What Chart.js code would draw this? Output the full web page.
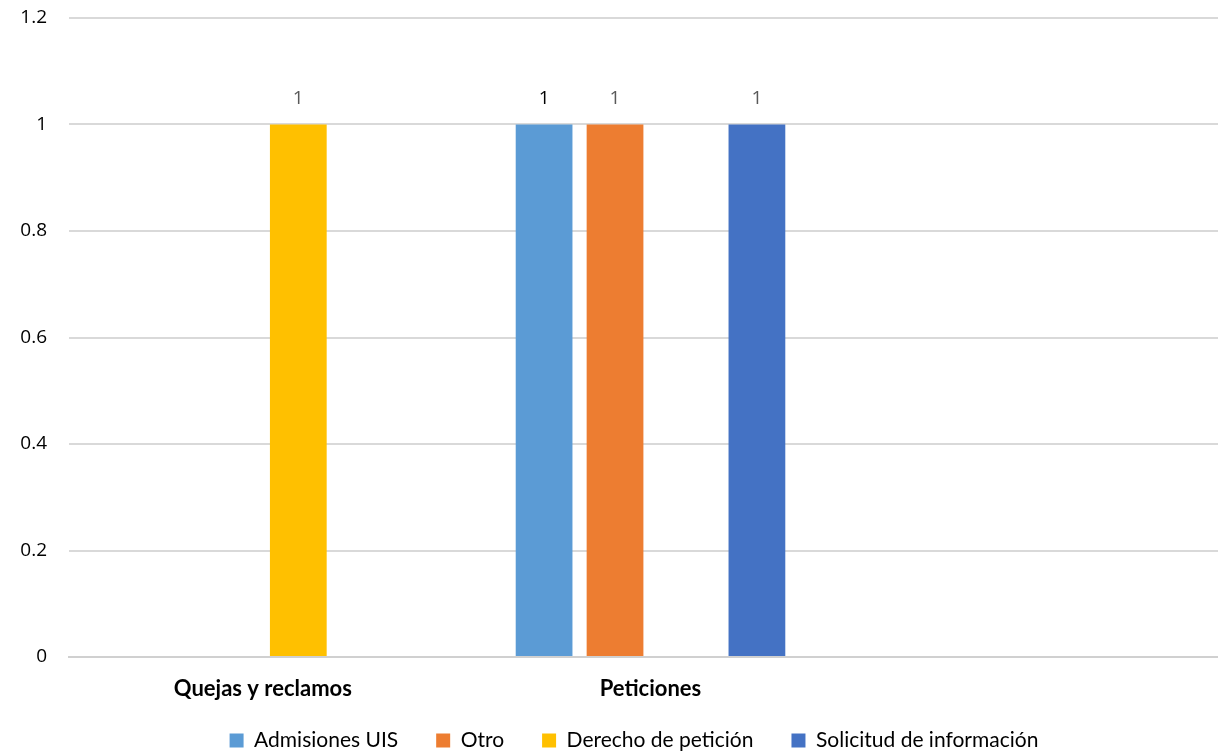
<!DOCTYPE html>
<html>
<head>
<meta charset="utf-8">
<script src="https://cdn.jsdelivr.net/npm/chart.js@4/dist/chart.umd.min.js"></script>
<style>
  html, body { margin: 0; padding: 0; background: #ffffff; overflow: hidden; }
  #wrap { width: 1218px; height: 755px; position: relative; overflow: hidden; }
</style>
</head>
<body>
<div id="wrap"><canvas id="c" width="1232" height="755"></canvas></div>
<script>
// Categories (third group is intentionally empty)
const categories = ['Quejas y reclamos', 'Peticiones', ''];

// Series values per category
const admisionesUIS      = [null, 1, null];
const otro               = [null, 1, null];
const derechoDePeticion  = [1, null, null];
const solicitudInfo      = [null, 1, null];

// Y axis tick labels
const yTicks = [0, 0.2, 0.4, 0.6, 0.8, 1, 1.2];

const seriesNames  = ['Admisiones UIS', 'Otro', 'Derecho de petición', 'Solicitud de información'];
const seriesColors = ['#5b9bd5', '#ed7d31', '#ffc000', '#4472c4'];
const labelColors  = ['#000000', '#595959', '#595959', '#595959'];
const seriesData   = [admisionesUIS, otro, derechoDePeticion, solicitudInfo];

// Value labels drawn above each bar
const valueLabels = {
  id: 'valueLabels',
  afterDatasetsDraw(chart) {
    const ctx = chart.ctx;
    ctx.save();
    ctx.font = '19px "Open Sans", sans-serif';
    ctx.textAlign = 'center';
    ctx.textBaseline = 'middle';
    chart.data.datasets.forEach((ds, i) => {
      const meta = chart.getDatasetMeta(i);
      meta.data.forEach((bar, j) => {
        const v = ds.data[j];
        if (v === null || v === undefined) return;
        ctx.fillStyle = labelColors[i];
        ctx.fillText(String(v), bar.x, bar.y - 26);
      });
    });
    ctx.restore();
  }
};

// Nudge the legend row slightly to the right
const legendShift = {
  id: 'legendShift',
  afterLayout(chart) {
    if (chart.legend) {
      chart.legend.left += 18;
      chart.legend.right += 18;
    }
  }
};

new Chart(document.getElementById('c'), {
  type: 'bar',
  data: {
    labels: categories,
    datasets: seriesData.map((d, i) => ({
      label: seriesNames[i],
      data: d,
      backgroundColor: seriesColors[i],
      borderWidth: 0,
      categoryPercentage: 0.732,
      barPercentage: 0.8
    }))
  },
  options: {
    responsive: false,
    animation: false,
    layout: { padding: { top: 18, right: 0, bottom: -6, left: 0 } },
    plugins: {
      tooltip: { enabled: false },
      legend: {
        position: 'bottom',
        labels: {
          boxWidth: 14,
          boxHeight: 14,
          padding: 38,
          color: '#000000',
          font: { family: 'Lato, sans-serif', size: 21 },
          useBorderRadius: false
        }
      }
    },
    scales: {
      x: {
        grid: { display: false, drawTicks: false },
        border: { display: true, color: '#d0d0d0', width: 2 },
        ticks: {
          color: '#000000',
          padding: 19,
          font: { family: 'Lato, sans-serif', size: 22, weight: 'bold' }
        },
        afterFit(scale) {
          scale.height = 35;
          // let the category names overflow the axis box
          scale._computeLabelArea = () => undefined;
        }
      },
      y: {
        min: 0,
        max: 1.2,
        afterBuildTicks(scale) { scale.ticks = yTicks.map(v => ({ value: v })); },
        grid: { color: '#d9d9d9', lineWidth: 2, drawTicks: false },
        border: { display: false },
        ticks: {
          color: '#000000',
          padding: 22,
          font: { family: '"Open Sans", sans-serif', size: 19 },
          callback: (v) => String(Math.round(v * 10) / 10)
        },
        afterFit(scale) {
          scale.width = 69;
          scale.paddingTop = 0;
          scale.paddingBottom = 0;
        }
      }
    }
  },
  plugins: [valueLabels, legendShift]
});
</script>
</body>
</html>
